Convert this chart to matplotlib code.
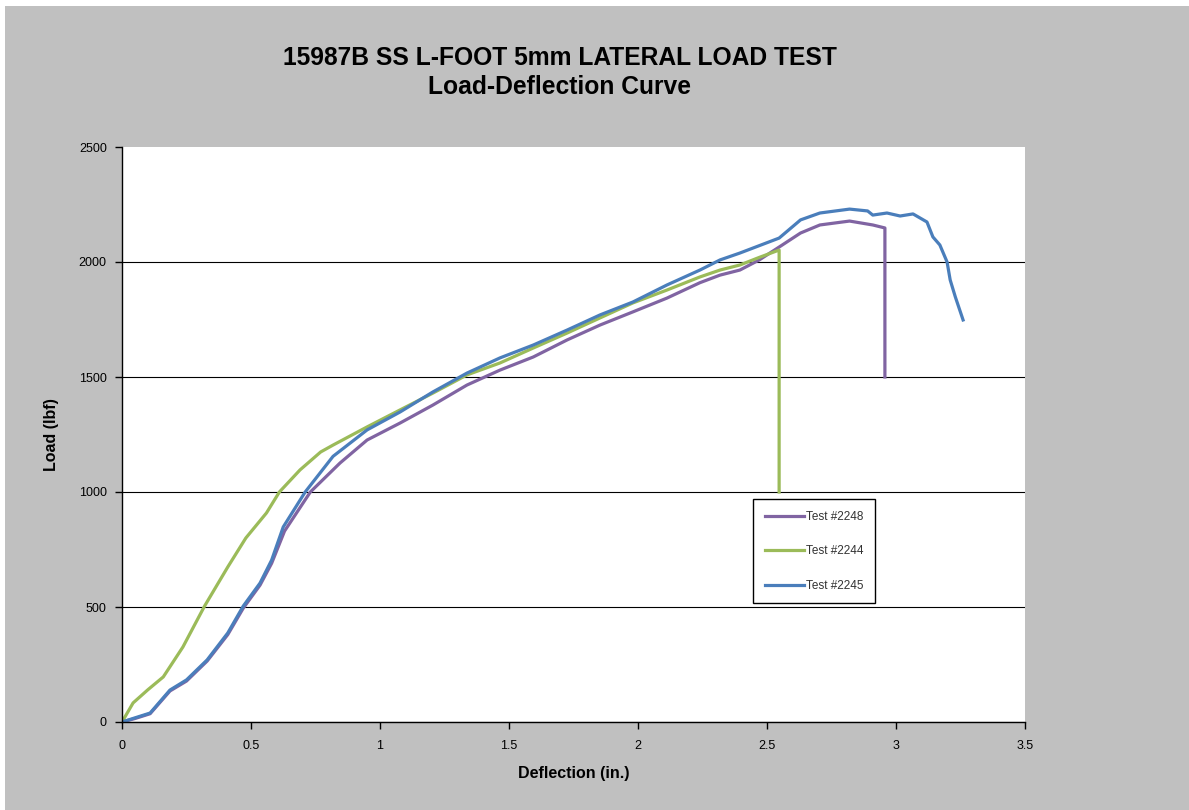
import matplotlib
matplotlib.use("Agg")
import matplotlib.pyplot as plt
from matplotlib.patches import Rectangle

plt.rcParams["font.family"] = ["Liberation Sans", "DejaVu Sans"]

# Test #2248 (purple)
defl_2248 = [0, 0.05, 0.109, 0.186, 0.25, 0.33, 0.41, 0.47, 0.535, 0.58, 0.63, 0.73,
             0.845, 0.95, 1.078, 1.205, 1.337, 1.465, 1.594, 1.725, 1.853, 1.98,
             2.112, 2.24, 2.318, 2.395, 2.47, 2.547, 2.63, 2.705, 2.82, 2.91,
             2.957, 2.957]
load_2248 = [0, 15, 36, 135, 178, 265, 380, 495, 595, 690, 830, 1000,
             1126, 1226, 1300, 1378, 1465, 1530, 1587, 1661, 1726, 1783,
             1843, 1910, 1943, 1965, 2009, 2065, 2126, 2161, 2178, 2161,
             2148, 1500]

# Test #2244 (green)
defl_2244 = [0, 0.043, 0.10, 0.16, 0.236, 0.32, 0.41, 0.48, 0.56, 0.61, 0.69, 0.77,
             0.818, 0.95, 1.078, 1.205, 1.337, 1.465, 1.594, 1.725, 1.853, 1.98,
             2.112, 2.24, 2.318, 2.395, 2.47, 2.547, 2.547]
load_2244 = [0, 83, 140, 196, 326, 504, 674, 800, 909, 1000, 1096, 1174,
             1204, 1283, 1357, 1430, 1509, 1561, 1626, 1691, 1757, 1822,
             1878, 1935, 1965, 1987, 2020, 2052, 1000]

# Test #2245 (blue)
defl_2245 = [0, 0.05, 0.109, 0.186, 0.25, 0.33, 0.41, 0.47, 0.535, 0.58, 0.625, 0.71,
             0.818, 0.95, 1.078, 1.205, 1.337, 1.465, 1.594, 1.725, 1.853, 1.98,
             2.112, 2.24, 2.318, 2.395, 2.547, 2.63, 2.705, 2.82, 2.89, 2.91,
             2.965, 3.016, 3.066, 3.12, 3.143, 3.17, 3.198, 3.21, 3.23, 3.26]
load_2245 = [0, 18, 39, 139, 183, 270, 387, 504, 604, 704, 848, 1000,
             1155, 1270, 1348, 1435, 1517, 1583, 1639, 1704, 1770, 1826,
             1900, 1965, 2009, 2039, 2104, 2183, 2213, 2230, 2222, 2204,
             2213, 2200, 2209, 2174, 2109, 2074, 2000, 1922, 1848, 1748]

x_ticks = [0, 0.5, 1, 1.5, 2, 2.5, 3, 3.5]
x_tick_labels = ["0", "0.5", "1", "1.5", "2", "2.5", "3", "3.5"]
y_ticks = [0, 500, 1000, 1500, 2000, 2500]

W, H = 1189, 810
fig = plt.figure(figsize=(W / 100, H / 100), dpi=100, facecolor="white")
fig.patches.append(Rectangle((5 / W, 0), 1, 1 - 6 / H, transform=fig.transFigure,
                             facecolor="#c0c0c0", edgecolor="none", zorder=-10))

ax = fig.add_axes([122 / W, 1 - 722 / H, (1025 - 122) / W, (722 - 147) / H])
ax.set_facecolor("white")

ax.plot(defl_2248, load_2248, color="#8064a2", lw=2.3, label="Test #2248")
ax.plot(defl_2244, load_2244, color="#9bbb59", lw=2.3, label="Test #2244")
ax.plot(defl_2245, load_2245, color="#4a7ebb", lw=2.3, label="Test #2245")

ax.set_xlim(0, 3.5)
ax.set_ylim(0, 2500)
ax.set_xticks(x_ticks)
ax.set_xticklabels(x_tick_labels)
ax.set_yticks(y_ticks)
ax.tick_params(labelsize=9, length=5, width=1, direction="out", colors="black")
ax.tick_params(axis="x", pad=8)
ax.tick_params(axis="y", pad=6)

ax.grid(axis="y", color="black", lw=0.8)
ax.get_ygridlines()[-1].set_visible(False)
ax.set_axisbelow(True)

for s in ["top", "right"]:
    ax.spines[s].set_visible(False)
for s in ["left", "bottom"]:
    ax.spines[s].set_color("black")
    ax.spines[s].set_linewidth(1)

ax.set_xlabel("Deflection (in.)", fontsize=11.5, fontweight="bold", labelpad=10)
ax.set_ylabel("Load (lbf)", fontsize=11.5, fontweight="bold", labelpad=14)

fig.text(560 / W, 1 - 58 / H, "15987B SS L-FOOT 5mm LATERAL LOAD TEST",
         ha="center", va="center", fontsize=17.7, fontweight="bold")
fig.text(560 / W, 1 - 87 / H, "Load-Deflection Curve",
         ha="center", va="center", fontsize=17.7, fontweight="bold")

leg = ax.legend(loc="upper left", bbox_to_anchor=(753 / W, 1 - 499 / H),
                bbox_transform=fig.transFigure, borderaxespad=0,
                fontsize=8.5, labelspacing=1.9, handlelength=3.3, handletextpad=0.15,
                borderpad=1.0, fancybox=False, framealpha=1, edgecolor="black")
leg.get_frame().set_linewidth(1)
for t in leg.get_texts():
    t.set_color("#333333")

fig.savefig("out.png", dpi=100, facecolor=fig.get_facecolor())
